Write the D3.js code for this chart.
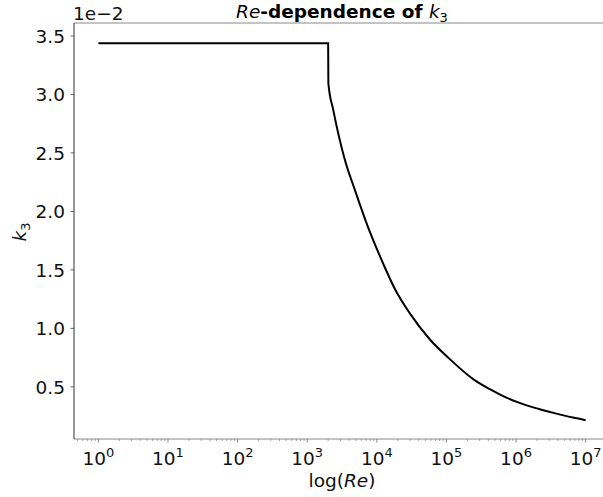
<!DOCTYPE html>
<html><head><meta charset="utf-8">
<script src="https://cdn.jsdelivr.net/npm/d3@7"></script>
<style>body{margin:0;background:#fff}text{font-family:"DejaVu Sans",sans-serif}</style>
</head><body>
<svg id="c" width="603" height="497"></svg>
<script>
// Data (k3 in units of 1e-2)
const reValues = [1, 10, 100, 1000, 2000, 2014, 2372, 3491, 4864, 7798, 12388, 18197, 29854, 57943, 111944, 242103, 419759, 727780, 1261915, 2187762, 3801894, 6576578, 10000000];
const k3Values = [3.437, 3.437, 3.437, 3.437, 3.437, 3.095, 2.866, 2.437, 2.180, 1.837, 1.552, 1.337, 1.128, 0.905, 0.737, 0.566, 0.480, 0.408, 0.352, 0.309, 0.271, 0.237, 0.215];
const xTickExps = [0, 1, 2, 3, 4, 5, 6, 7];
const yTicks = [0.5, 1.0, 1.5, 2.0, 2.5, 3.0, 3.5];

const FS = 18.5, SUB = 13;
const svg = d3.select("#c");
const L = 74, R = 610, T = 23, B = 439;
const x = d3.scaleLog().domain([Math.pow(10, -0.35), Math.pow(10, 7.35)]).range([L, R]);
const y = d3.scaleLinear().domain([0.054, 3.611]).range([B, T]);

// minor ticks
const minor = [];
for (let e = -1; e <= 7; e++) for (let m = 2; m <= 9; m++) {
  const v = m * Math.pow(10, e);
  if (v >= x.domain()[0] && v <= x.domain()[1]) minor.push(v);
}
svg.append("g").selectAll("line").data(minor).join("line")
  .attr("x1", d => x(d)).attr("x2", d => x(d)).attr("y1", B).attr("y2", B + 2)
  .attr("stroke", "#666").attr("stroke-width", 0.6);
// major x ticks
const gx = svg.append("g");
xTickExps.forEach(e => {
  const px = x(Math.pow(10, e));
  gx.append("line").attr("x1", px).attr("x2", px).attr("y1", B).attr("y2", B + 3.5).attr("stroke", "#666").attr("stroke-width", 0.8);
  const t = gx.append("text").attr("x", px).attr("y", B + 26).attr("text-anchor", "middle").attr("font-size", FS).attr("fill", "#111");
  t.append("tspan").text("10");
  t.append("tspan").attr("dy", -8).attr("font-size", SUB).text(e);
});
// y ticks
const gy = svg.append("g");
yTicks.forEach(v => {
  const py = y(v);
  gy.append("line").attr("x1", L - 3.5).attr("x2", L).attr("y1", py).attr("y2", py).attr("stroke", "#444").attr("stroke-width", 0.8);
  gy.append("text").attr("x", L - 9).attr("y", py + 7).attr("text-anchor", "end").attr("font-size", FS).attr("fill", "#111").text(v.toFixed(1));
});

// spines
svg.append("line").attr("x1", L).attr("x2", R).attr("y1", T).attr("y2", T).attr("stroke", "#888").attr("stroke-width", 1);
svg.append("line").attr("x1", L).attr("x2", R).attr("y1", B).attr("y2", B).attr("stroke", "#888").attr("stroke-width", 1);
svg.append("line").attr("x1", L).attr("x2", L).attr("y1", T).attr("y2", B).attr("stroke", "#333").attr("stroke-width", 1);

// line
const line = d3.line().x((d, i) => x(reValues[i])).y(d => y(d)).curve(d3.curveMonotoneX);
svg.append("path").datum(k3Values).attr("d", line).attr("fill", "none").attr("stroke", "#000").attr("stroke-width", 2);

// offset text
svg.append("text").attr("x", 73).attr("y", 20).attr("font-size", FS).attr("fill", "#111").text("1e\u22122");

// title
const title = svg.append("text").attr("x", 342).attr("y", 18).attr("text-anchor", "middle").attr("font-size", FS).attr("fill", "#000");
title.append("tspan").attr("font-style", "italic").text("Re");
title.append("tspan").attr("font-weight", "bold").text("-dependence of ");
title.append("tspan").attr("font-style", "italic").text("k");
title.append("tspan").attr("font-size", SUB).attr("dy", 4).text("3");

// x label
const xl = svg.append("text").attr("x", 342).attr("y", 487).attr("text-anchor", "middle").attr("font-size", FS).attr("fill", "#111");
xl.append("tspan").text("log(");
xl.append("tspan").attr("font-style", "italic").text("Re");
xl.append("tspan").text(")");

// y label
const yl = svg.append("text").attr("transform", "translate(26,232) rotate(-90)").attr("text-anchor", "middle").attr("font-size", FS).attr("fill", "#111");
yl.append("tspan").attr("font-style", "italic").text("k");
yl.append("tspan").attr("font-size", SUB).attr("dy", 4).text("3");
</script>
</body></html>
